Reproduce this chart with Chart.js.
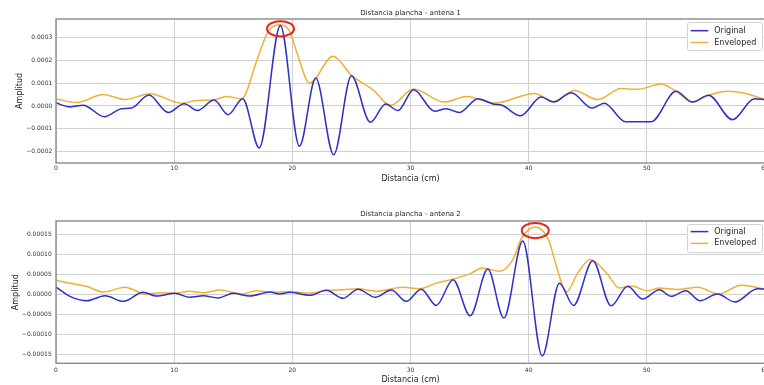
<!DOCTYPE html>
<html>
<head>
<meta charset="utf-8">
<script src="https://cdn.jsdelivr.net/npm/chart.js@4.4.1/dist/chart.umd.min.js"></script>
<style>
  html, body { margin: 0; padding: 0; background: #fff; overflow: hidden; width: 764px; height: 385px; }
  canvas { display: block; }
</style>
</head>
<body>
<canvas id="antena1" width="784" height="192"></canvas>
<canvas id="antena2" width="784" height="193"></canvas>
<script>
// Distance (cm) / amplitude pairs for each trace
const antena1Original = [
  [0, 1.3e-5], [1.2, -0.4e-5], [2.3, 0.3e-5], [4.1, -4.7e-5], [5.55, -1.2e-5], [6.4, -0.9e-5],
  [7.86, 4.8e-5], [9.5, -2.8e-5], [10.85, 1.0e-5], [11.98, -2.0e-5], [13.38, 2.6e-5],
  [14.57, -3.8e-5], [15.8, 3.2e-5], [17.2, -18.3e-5], [18.99, 35.2e-5], [20.6, -17.6e-5],
  [21.98, 12.2e-5], [23.5, -21.3e-5], [25.0, 13.2e-5], [26.6, -7.1e-5], [27.9, 0.9e-5],
  [28.94, -2.0e-5], [30.26, 7.1e-5], [32.04, -2.3e-5], [33.0, -1.2e-5], [34.15, -2.8e-5],
  [35.7, 3.2e-5], [36.97, 0.9e-5], [37.76, 0.3e-5], [39.3, -4.3e-5], [41.06, 3.9e-5],
  [42.12, 1.7e-5], [43.6, 5.8e-5], [45.37, -0.9e-5], [46.4, 1.2e-5], [48.2, -6.9e-5],
  [50.36, -6.9e-5], [52.47, 6.4e-5], [53.87, 1.7e-5], [55.22, 4.7e-5], [57.25, -6.0e-5],
  [59.1, 3.2e-5], [60, 2.7e-5]
];
const antena1Envelope = [
  [0, 3.1e-5], [1.75, 1.5e-5], [4.0, 5.0e-5], [5.83, 2.8e-5], [7.95, 5.4e-5], [10.62, 1.2e-5],
  [11.9, 2.4e-5], [13.3, 2.6e-5], [14.43, 4.2e-5], [15.7, 3.1e-5], [16.97, 19.5e-5],
  [17.95, 32.6e-5], [18.93, 35.5e-5], [19.78, 32.6e-5], [20.35, 23.9e-5], [21.47, 10.0e-5],
  [23.44, 21.7e-5], [25.0, 13.4e-5], [26.82, 7.1e-5], [28.32, 0.3e-5], [30.26, 7.4e-5],
  [32.88, 1.7e-5], [34.72, 4.2e-5], [37.1, 1.3e-5], [40.5, 5.5e-5], [42.12, 2.0e-5],
  [43.87, 6.8e-5], [45.84, 2.8e-5], [47.82, 7.6e-5], [49.22, 7.3e-5], [51.2, 9.6e-5],
  [52.47, 6.4e-5], [53.87, 1.7e-5], [55.22, 4.7e-5], [56.85, 6.4e-5], [58.2, 5.7e-5],
  [60, 2.8e-5]
];
const antena2Original = [
  [0, 1.8e-5], [1.18, -0.5e-5], [2.6, -1.6e-5], [4.14, -0.35e-5], [5.7, -1.75e-5],
  [7.38, 0.5e-5], [8.5, -0.43e-5], [10.06, 0.25e-5], [11.33, -0.75e-5], [12.45, -0.35e-5],
  [13.72, -0.9e-5], [15.0, 0.25e-5], [16.4, -0.43e-5], [18.1, 0.57e-5], [18.9, 0.1e-5],
  [19.78, 0.5e-5], [21.47, -0.25e-5], [22.88, 1.0e-5], [24.29, -1.0e-5], [25.56, 1.3e-5],
  [27.02, -0.75e-5], [28.38, 1.07e-5], [29.64, -1.75e-5], [30.91, 1.3e-5], [32.18, -2.75e-5],
  [33.6, 3.65e-5], [35.05, -5.35e-5], [36.54, 6.3e-5], [37.9, -5.9e-5], [39.5, 13.3e-5],
  [41.15, -15.35e-5], [42.6, 2.8e-5], [43.8, -2.75e-5], [45.42, 8.4e-5], [46.97, -2.85e-5],
  [48.38, 2.0e-5], [49.65, -1.17e-5], [51.06, 1.15e-5], [52.04, -0.5e-5], [53.3, 0.9e-5],
  [54.5, -1.6e-5], [55.98, 0.08e-5], [57.45, -1.9e-5], [59.36, 1.4e-5], [60, 1.3e-5]
];
const antena2Envelope = [
  [0, 3.5e-5], [1.18, 2.75e-5], [2.6, 2.0e-5], [4.0, 0.57e-5], [5.83, 1.8e-5], [7.66, 0.0],
  [8.8, 0.4e-5], [10.06, 0.25e-5], [11.33, 0.8e-5], [12.45, 0.4e-5], [13.86, 1.07e-5],
  [15.7, 0.08e-5], [16.97, 0.9e-5], [18.1, 0.57e-5], [19.78, 0.65e-5], [21.47, 0.3e-5],
  [22.88, 1.0e-5], [24.29, 1.15e-5], [25.56, 1.4e-5], [27.1, 0.75e-5], [29.35, 1.75e-5],
  [30.77, 1.4e-5], [32.18, 2.8e-5], [33.6, 3.8e-5], [35.0, 5.1e-5], [36.12, 6.6e-5],
  [37.53, 5.75e-5], [38.66, 8.65e-5], [39.4, 14.0e-5], [40.55, 16.8e-5], [41.7, 13.5e-5],
  [42.3, 7.5e-5], [43.2, 0.6e-5], [44.15, 5.3e-5], [45.2, 8.7e-5], [46.7, 4.9e-5],
  [47.68, 1.57e-5], [48.67, 2.07e-5], [50.07, 0.9e-5], [51.06, 1.57e-5], [52.6, 1.2e-5],
  [54.3, 1.8e-5], [56.1, 0.08e-5], [57.96, 2.25e-5], [60, 1.3e-5]
];

// Highlighted maxima (circled)
const antena1Peaks = [[19.0, 33.7e-5]];
const antena2Peaks = [[40.56, 15.9e-5]];

// Axis ticks
const distanceTicks = [0, 10, 20, 30, 40, 50, 60];
const distanceTickLabels = ['0', '10', '20', '30', '40', '50', '60'];
const antena1Ticks = [-0.0002, -0.0001, 0, 0.0001, 0.0002, 0.0003];
const antena1TickLabels = ['\u22120.0002', '\u22120.0001', '0.0000', '0.0001', '0.0002', '0.0003'];
const antena2Ticks = [-0.00015, -0.0001, -0.00005, 0, 0.00005, 0.0001, 0.00015];
const antena2TickLabels = ['\u22120.00015', '\u22120.00010', '\u22120.00005', '0.00000', '0.00005', '0.00010', '0.00015'];

const FONT = "'DejaVu Sans', sans-serif";
const BLUE = '#2f2fc8';
const ORANGE = '#f0b035';
const GRID = '#d0d0d0';

const toPoints = pairs => pairs.map(([x, y]) => ({ x, y }));

// Full frame around the plot area
const frame = {
  id: 'frame',
  afterDatasetsDraw(chart) {
    const { ctx, chartArea: a } = chart;
    ctx.save();
    ctx.strokeStyle = '#8a8a8a';
    ctx.lineWidth = 1.4;
    ctx.strokeRect(a.left, a.top, a.right - a.left, a.bottom - a.top);
    ctx.restore();
  }
};

// Red rings around the highlighted maxima
const peakRings = {
  id: 'peakRings',
  afterDatasetsDraw(chart, args, opts) {
    const { ctx, scales } = chart;
    ctx.save();
    ctx.strokeStyle = '#e8231c';
    ctx.lineWidth = 2;
    (opts.points || []).forEach(([x, y]) => {
      const px = scales.x.getPixelForValue(x);
      const py = scales.y.getPixelForValue(y);
      ctx.beginPath();
      ctx.ellipse(px, py, 13.5, 7.6, 0, 0, Math.PI * 2);
      ctx.stroke();
    });
    ctx.restore();
  }
};

// Boxed legend in the upper right corner of the plot
const legendBox = {
  id: 'legendBox',
  afterDraw(chart, args, opts) {
    const { ctx, chartArea: a } = chart;
    const w = 75, h = 28;
    const x = a.right - 3 - w, y = a.top + 3;
    ctx.save();
    ctx.fillStyle = 'rgba(255,255,255,0.9)';
    ctx.strokeStyle = '#d2d2d2';
    ctx.lineWidth = 1;
    ctx.beginPath();
    ctx.roundRect(x + 0.5, y + 0.5, w, h, 2);
    ctx.fill();
    ctx.stroke();
    ctx.font = '8px ' + FONT;
    ctx.textBaseline = 'middle';
    chart.data.datasets.forEach((ds, i) => {
      const ly = y + (opts.firstRow || 8.5) + i * 11.8;
      ctx.strokeStyle = ds.borderColor;
      ctx.lineWidth = 1.5;
      ctx.beginPath();
      ctx.moveTo(x + 3.7, ly);
      ctx.lineTo(x + 21.3, ly);
      ctx.stroke();
      ctx.fillStyle = '#262626';
      ctx.fillText(ds.label, x + 27.3, ly);
    });
    ctx.restore();
  }
};

function makeChart(id, cfg) {
  return new Chart(document.getElementById(id), {
    type: 'line',
    data: {
      datasets: [
        { label: 'Original', data: toPoints(cfg.original), borderColor: BLUE, borderWidth: 1.5,
          pointRadius: 0, cubicInterpolationMode: 'monotone', fill: false },
        { label: 'Enveloped', data: toPoints(cfg.envelope), borderColor: ORANGE, borderWidth: 1.5,
          pointRadius: 0, cubicInterpolationMode: 'monotone', fill: false }
      ]
    },
    options: {
      responsive: false,
      animation: false,
      devicePixelRatio: 1,
      layout: { padding: { left: 0, right: 19, top: 0, bottom: 0 } },
      plugins: {
        legend: { display: false },
        tooltip: { enabled: false },
        title: {
          display: true, text: cfg.title, fullSize: false, color: '#262626',
          font: { family: FONT, size: 7, weight: 'normal' },
          padding: cfg.titlePad
        },
        peakRings: { points: cfg.peaks },
        legendBox: { firstRow: cfg.legendRow }
      },
      scales: {
        x: {
          type: 'linear', min: 0, max: 60,
          afterBuildTicks: s => { s.ticks = distanceTicks.map(v => ({ value: v })); },
          afterFit: s => { s.height = cfg.xHeight; },
          ticks: {
            autoSkip: false, maxRotation: 0, color: '#333', padding: cfg.xTickPad,
            font: { family: FONT, size: 6 },
            callback: (v, i) => distanceTickLabels[i]
          },
          grid: { color: GRID, lineWidth: 1, drawTicks: false },
          border: { display: false },
          title: {
            display: true, text: 'Distancia (cm)', color: '#262626',
            font: { family: FONT, size: 8 }, padding: { top: 0, bottom: cfg.xTitlePad }
          }
        },
        y: {
          type: 'linear', min: cfg.yMin, max: cfg.yMax,
          afterBuildTicks: s => { s.ticks = cfg.yTicks.map(v => ({ value: v })); },
          afterFit: s => { s.width = 56; },
          ticks: {
            autoSkip: false, color: '#333', padding: cfg.yTickPad,
            font: { family: FONT, size: 6 },
            callback: (v, i) => cfg.yTickLabels[i]
          },
          grid: { color: GRID, lineWidth: 1, drawTicks: false },
          border: { display: false },
          title: {
            display: true, text: 'Amplitud', color: '#262626',
            font: { family: FONT, size: 8 }, padding: { top: cfg.yTitlePad, bottom: 0 }
          }
        }
      }
    },
    plugins: [frame, peakRings, legendBox]
  });
}

makeChart('antena1', {
  title: 'Distancia plancha - antena 1',
  original: antena1Original, envelope: antena1Envelope, peaks: antena1Peaks,
  yMin: -0.000249, yMax: 0.00038,
  yTicks: antena1Ticks, yTickLabels: antena1TickLabels,
  titlePad: { top: 8.8, bottom: 1.8 },
  xHeight: 29, xTickPad: 1.4, xTitlePad: 8.6,
  yTickPad: 3.7, yTitlePad: 15.2, legendRow: 8.7
});

makeChart('antena2', {
  title: 'Distancia plancha - antena 2',
  original: antena2Original, envelope: antena2Envelope, peaks: antena2Peaks,
  yMin: -0.000172, yMax: 0.000183,
  yTicks: antena2Ticks, yTickLabels: antena2TickLabels,
  titlePad: { top: 18.1, bottom: 2.5 },
  xHeight: 21.7, xTickPad: 3.8, xTitlePad: 0.6,
  yTickPad: 4.3, yTitlePad: 11.2, legendRow: 7.6
});
</script>
</body>
</html>
